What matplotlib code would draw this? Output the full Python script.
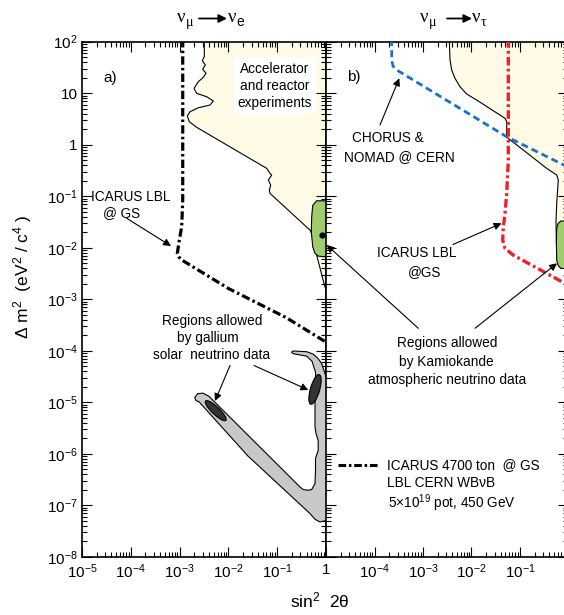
import numpy as np
import matplotlib
matplotlib.use('Agg')
import matplotlib.pyplot as plt
from matplotlib.patches import Polygon, Ellipse, FancyArrowPatch
from matplotlib.ticker import LogLocator, FuncFormatter, NullFormatter

plt.rcParams['font.family'] = ['Liberation Sans', 'DejaVu Sans']
plt.rcParams['mathtext.fontset'] = 'custom'
plt.rcParams['mathtext.rm'] = 'Liberation Sans'
plt.rcParams['mathtext.it'] = 'Liberation Sans:italic'
plt.rcParams['mathtext.bf'] = 'Liberation Sans:bold'
plt.rcParams['lines.scale_dashes'] = False

# ---------------- data (log10 values) ----------------
# left panel: nu_mu -> nu_e, accelerator + reactor excluded region boundary
acc_e_s2t = [-2.494, -2.494, -2.535, -2.473, -2.527, -2.459, -2.514, -2.617, -2.705,
             -2.650, -2.445, -2.309, -2.377, -2.617, -2.787, -2.842, -2.801, -2.650,
             -1.215, -1.148, -1.113, -1.182, -1.133, -1.162, -1.148, -0.328, -0.266,
             -0.191, -0.041, 0.0]
acc_e_dm2 = [2.05, 1.709, 1.631, 1.548, 1.464, 1.386, 1.309, 1.223, 1.095,
             0.998, 0.932, 0.849, 0.771, 0.718, 0.641, 0.557, 0.447, 0.338,
             -0.458, -0.555, -0.588, -0.685, -0.783, -0.880, -0.944, -1.656, -1.773,
             -2.142, -2.691, -2.821]

# left panel: ICARUS LBL sensitivity
icarus_e_s2t = [-2.936, -2.936, -2.957, -3.006, -3.047, -3.012, -2.951, -2.002, -0.805, 0.0]
icarus_e_dm2 = [2.05, -1.074, -1.592, -1.850, -2.109, -2.181, -2.239, -2.788, -3.36, -3.83]

# Kamiokande atmospheric regions
kam_e_s2t = [-0.19, -0.272, -0.293, -0.301, -0.272, -0.225, -0.158, -0.02, 0.1, 0.1, -0.088]
kam_e_dm2 = [-1.087, -1.175, -1.398, -1.689, -1.980, -2.109, -2.161, -2.175, -2.175, -1.087, -1.087]
kam_best = [-0.09, -1.76]
kam_t_s2t = [-0.16, -0.215, -0.243, -0.25, -0.243, -0.215, -0.16, 0.1, 0.1]
kam_t_dm2 = [-1.48, -1.53, -1.62, -1.90, -2.239, -2.34, -2.40, -2.40, -1.48]

# gallium solar neutrino allowed region (outer contour)
ga_s2t = [-2.690, -2.630, -2.520, -2.400, -0.533, -0.465, -0.369, -0.293, -0.225, -0.215, -0.215,
          -0.160, -0.160, -0.205, -0.225, -0.225, -0.205, -0.215, -0.287, -0.395, -0.670,
          -0.707, -0.670, -0.395, -0.260, -0.164, -0.088, -0.055, -0.010, 0.020, 0.020,
          -0.020, -0.123, -0.225, -0.328, -1.600, -2.600, -2.665]
ga_dm2 = [-4.905, -4.830, -4.820, -4.880, -6.641, -6.691, -6.705, -6.691, -6.575, -6.317, -6.09,
          -5.93, -5.74, -5.60, -5.476, -5.021, -4.699, -4.414, -4.200, -4.103, -4.055,
          -4.025, -4.002, -4.016, -4.064, -4.148, -4.245, -4.342, -4.472, -4.570, -7.288,
          -7.297, -7.320, -7.268, -7.157, -6.040, -4.990, -4.965]
# gallium best-fit islands: centre (log s2t, log dm2), length, width (decades), angle (deg)
ga_small_angle = [-2.260, -5.160, 0.56, 0.15, -42.0]
ga_large_angle = [-0.225, -4.748, 0.60, 0.19, 73.0]

# right panel: nu_mu -> nu_tau
acc_t_s2t = [-2.458, -2.443, -2.408, -2.340, -2.237, -2.099, -1.893, -1.309, -1.274, -1.274,
             -1.241, -0.449, -0.243, -0.210, -0.243, -0.258, -0.250]
acc_t_dm2 = [2.05, 1.644, 1.450, 1.289, 1.126, 0.984, 0.868, 0.513, 0.447, 0.155,
             0.124, -0.458, -0.588, -0.685, -1.138, -1.495, -1.90]
chorus_s2t = [-3.645, -3.645, -3.619, -3.542, -3.474, -1.274, -0.093, 0.0]
chorus_dm2 = [2.05, 1.644, 1.528, 1.450, 1.412, 0.155, -0.394, -0.437]
icarus_t_s2t = [-1.241, -1.241, -1.274, -1.309, -1.344, -1.357, -1.309, -1.138, -0.072, 0.0]
icarus_t_dm2 = [2.05, -0.297, -0.944, -1.332, -1.592, -1.850, -2.012, -2.142, -2.691, -2.728]

# ---------------- figure ----------------
W, H = 564, 615
fig = plt.figure(figsize=(W / 100, H / 100), dpi=100, facecolor='white')


def F(px, py):
    return (px / W, 1 - py / H)


top_px, bot_px = 41.7, 557.0
ax1 = fig.add_axes([82 / W, 1 - bot_px / H, 244 / W, (bot_px - top_px) / H])
ax2 = fig.add_axes([326 / W, 1 - bot_px / H, 242.5 / W, (bot_px - top_px) / H])

YEL = '#FFFBE6'
GREEN = '#9FCD6E'
GRAY = '#C8C8C8'
DARK = '#333333'
BLUE = '#1A72C4'
RED = '#F0202A'


def P(a):
    return 10.0 ** np.asarray(a)


def lab(v, pos):
    e = int(round(np.log10(v)))
    if e == 0:
        return '1'
    if e == 1:
        return '10'
    return r'$10^{%d}$' % e


def lab_right(v, pos):
    e = int(round(np.log10(v)))
    if e in (-5, 0):
        return ''
    return lab(v, pos)


for ax in (ax1, ax2):
    ax.set_xscale('log')
    ax.set_yscale('log')
    ax.set_xlim(1e-5, 1)
    ax.set_ylim(1e-8, 1e2)
    ax.xaxis.set_major_locator(LogLocator(base=10, numticks=20))
    ax.xaxis.set_minor_locator(LogLocator(base=10, subs=np.arange(2, 10), numticks=20))
    ax.yaxis.set_major_locator(LogLocator(base=10, numticks=20))
    ax.yaxis.set_minor_locator(LogLocator(base=10, subs=np.arange(2, 10), numticks=20))
    ax.xaxis.set_minor_formatter(NullFormatter())
    ax.yaxis.set_minor_formatter(NullFormatter())
    ax.tick_params(which='both', direction='in', top=True, right=True, width=0.8,
                   labelsize=11)
    ax.tick_params(which='major', length=7)
    ax.tick_params(which='minor', length=3.5)
    ax.tick_params(axis='x', pad=4)
    ax.tick_params(axis='y', pad=3)
    for s in ax.spines.values():
        s.set_linewidth(1.2)

ax1.xaxis.set_major_formatter(FuncFormatter(lab))
ax1.yaxis.set_major_formatter(FuncFormatter(lab))
ax2.xaxis.set_major_formatter(FuncFormatter(lab_right))
ax2.yaxis.set_major_formatter(NullFormatter())

# ---- left panel ----
fx = list(acc_e_s2t) + [0.1, 0.1]
fy = list(acc_e_dm2) + [acc_e_dm2[-1], 2.1]
ax1.add_patch(Polygon(np.column_stack([P(fx), P(fy)]), closed=True, facecolor=YEL,
                      edgecolor='none', zorder=1))
ax1.plot(P(acc_e_s2t), P(acc_e_dm2), color='black', lw=0.8, zorder=2)
ax1.add_patch(Polygon(np.column_stack([P(kam_e_s2t), P(kam_e_dm2)]), closed=True,
                      facecolor=GREEN, edgecolor='black', lw=0.8, zorder=3))
ax1.plot(P(kam_best[0]), P(kam_best[1]), 'o', color='black', ms=3.5, zorder=4)
ax1.add_patch(Polygon(np.column_stack([P(ga_s2t), P(ga_dm2)]), closed=True,
                      facecolor=GRAY, edgecolor='black', lw=0.8, zorder=3))
log_tr1 = ax1.transLimits + ax1.transAxes
for c in (ga_small_angle, ga_large_angle):
    ax1.add_patch(Ellipse((c[0], c[1]), c[2], c[3], angle=c[4], facecolor=DARK,
                          edgecolor='black', lw=0.8, transform=log_tr1, zorder=4))
l1, = ax1.plot(P(icarus_e_s2t), P(icarus_e_dm2), color='black', lw=2.3, zorder=5,
               solid_capstyle='butt')
l1.set_dashes([6.0, 2.3, 1.8, 2.3])

# ---- right panel ----
fx = list(acc_t_s2t) + [0.1, 0.1]
fy = list(acc_t_dm2) + [acc_t_dm2[-1], 2.1]
ax2.add_patch(Polygon(np.column_stack([P(fx), P(fy)]), closed=True, facecolor=YEL,
                      edgecolor='none', zorder=1))
ax2.plot(P(acc_t_s2t), P(acc_t_dm2), color='black', lw=0.8, zorder=2)
ax2.add_patch(Polygon(np.column_stack([P(kam_t_s2t), P(kam_t_dm2)]), closed=True,
                      facecolor=GREEN, edgecolor='black', lw=0.8, zorder=3))
l2, = ax2.plot(P(chorus_s2t), P(chorus_dm2), color=BLUE, lw=2.0, zorder=5)
l2.set_dashes([5.0, 3.0])
l3, = ax2.plot(P(icarus_t_s2t), P(icarus_t_dm2), color=RED, lw=2.4, zorder=6)
l3.set_dashes([6.2, 2.3, 2.0, 2.3])

# legend sample line
lg, = ax2.plot([(338.3 - 326) / 242.5, (379.3 - 326) / 242.5],
               [(557 - 465) / 515.3] * 2, transform=ax2.transAxes, color='black', lw=2.2)
lg.set_dashes([5.5, 2.0, 1.8, 2.0])

# ---------------- texts ----------------
TFS = 9.8


def T(px, py, s, **kw):
    kw.setdefault('fontsize', TFS)
    kw.setdefault('ha', 'center')
    kw.setdefault('va', 'center')
    return fig.text(*F(px, py), s, **kw)


def arrow(p0, p1, lw=0.8, ms=11):
    a = FancyArrowPatch(F(*p0), F(*p1), transform=fig.transFigure,
                        arrowstyle='-|>', lw=lw, color='black', mutation_scale=ms,
                        shrinkA=0, shrinkB=0, zorder=10)
    fig.add_artist(a)


# titles
SERIF = ['Liberation Serif', 'DejaVu Serif']
T(181, 17, 'ν', fontsize=13.5, family=SERIF)
T(189.5, 22.5, 'μ', fontsize=10, family=SERIF)
arrow((199, 18.5), (227, 18.5), lw=1.3, ms=12)
T(232.5, 17, 'ν', fontsize=13.5, family=SERIF)
T(240, 22.5, 'e', fontsize=10)
T(424, 17, 'ν', fontsize=13.5, family=SERIF)
T(432.5, 22.5, 'μ', fontsize=10, family=SERIF)
arrow((447, 18.5), (472, 18.5), lw=1.3, ms=12)
T(476, 17, 'ν', fontsize=13.5, family=SERIF)
T(483.5, 22.5, 'τ', fontsize=10, family=SERIF)

# axis labels
T(23, 277, r'Δ m$^2$  (eV$^2$ / c$^4$ )', fontsize=12.5, rotation=90)
T(320, 600, r'sin$^2$  2θ', fontsize=12.5)

# panel a
T(110, 78, 'a)', fontsize=11)
T(275, 86, 'Accelerator\nand reactor\nexperiments', linespacing=1.25,
  bbox=dict(facecolor='white', edgecolor='none', pad=3), zorder=6)
T(131, 196.7, 'ICARUS LBL')
T(121.5, 213.3, '@ GS')
arrow((126.7, 218.3), (171, 246))
T(212, 320.7, 'Regions allowed')
T(207.5, 337.7, 'by gallium')
T(212, 355, 'solar  neutrino data')
arrow((230, 365.5), (215, 401))
arrow((254, 365.5), (308.3, 390))

# panel b
T(353.3, 76.7, 'b)', fontsize=11)
T(387.5, 138.3, 'CHORUS &')
T(399.7, 156.7, 'NOMAD @ CERN')
arrow((380, 125), (399.3, 78.3))
T(417, 253.3, 'ICARUS LBL')
T(424.5, 271.7, '@GS')
arrow((453, 244.5), (501.5, 223.3))
T(447, 343.3, 'Regions allowed')
T(446.7, 361.7, 'by Kamiokande')
T(447, 380, 'atmospheric neutrino data')
arrow((418.3, 328.3), (326.7, 245))
arrow((475, 328.3), (557, 263.3))
T(387.3, 465, 'ICARUS 4700 ton  @ GS', ha='left')
T(387.3, 482.7, 'LBL CERN WBνB', ha='left')
T(388.3, 502.7, r'5$\times$10$^{19}$ pot, 450 GeV', ha='left')

fig.savefig('out.png', dpi=100, facecolor='white')
